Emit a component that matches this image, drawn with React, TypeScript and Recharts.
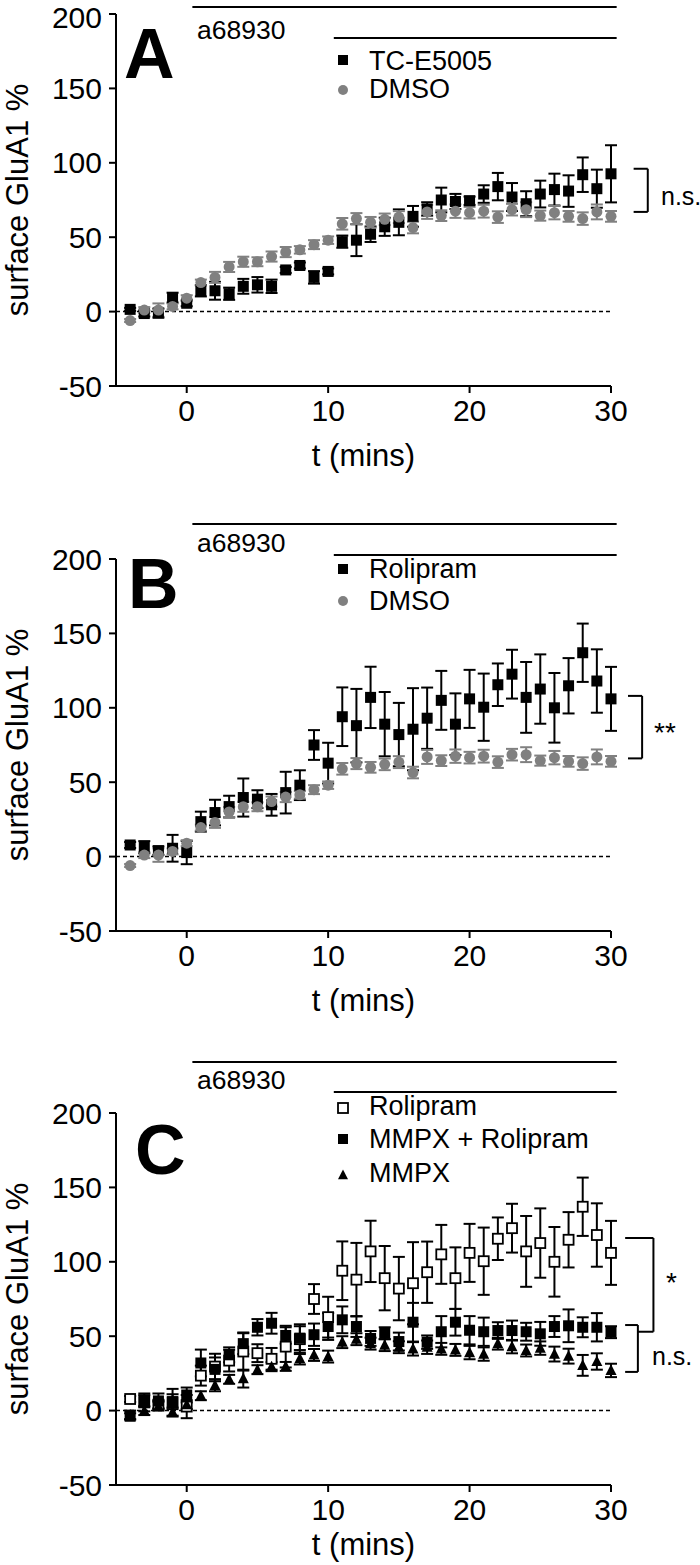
import { ScatterChart, Scatter, XAxis, YAxis, ErrorBar, ReferenceLine } from "recharts";

const FONT = '"Liberation Sans", Arial, Helvetica, sans-serif';
const GREY = "#808080";

// time points (min) relative to a68930 application
const minutes = [-4, -3, -2, -1, 0, 1, 2, 3, 4, 5, 6, 7, 8, 9, 10, 11, 12, 13, 14, 15, 16, 17, 18, 19, 20, 21, 22, 23, 24, 25, 26, 27, 28, 29, 30];

const xTicks = [0, 10, 20, 30];
const yTicks = [-50, 0, 50, 100, 150, 200];

// surface GluA1 % (mean) and SEM
const tcE5005 = [1.5, -1.3, -1, 9.4, 5.6, 14, 14, 12, 17, 18, 17, 28, 31, 23, 27, 47, 48, 52, 57, 60, 64, 69, 75, 74, 74.5, 79, 84, 77, 72.5, 79, 82, 81, 92, 82.6, 92.6];
const tcE5005Err = [1, 2, 3, 3.3, 2, 3.8, 6, 4.1, 5, 5.2, 4.5, 2, 2, 4.2, 2, 4.1, 10.7, 5.2, 6.1, 8.7, 7, 4.5, 8.3, 5.1, 2.8, 5.9, 9.2, 9.4, 8.4, 9, 10.7, 10.6, 11.6, 12.8, 19.2];

const dmso = [-6, 1, 1, 3.5, 9, 19.5, 23, 30, 33.5, 33.5, 37, 40, 41.5, 45, 48, 59, 62.5, 60, 62, 63.5, 56.5, 67, 64.5, 67.5, 66.5, 67.5, 63.5, 68.5, 68.5, 64.5, 66.5, 64, 62.5, 67, 64];
const dmsoErr = [1, 2, 4.5, 2, 2, 2, 3.7, 3.4, 3.4, 3, 3.4, 3.4, 2.5, 3, 2.5, 3.9, 3.7, 3.6, 3.9, 4, 3.9, 4.7, 3.6, 4.5, 3.9, 4.3, 3.9, 3.9, 5, 3.4, 4.5, 3.6, 4.2, 5, 3.6];

const rolipram = [7.8, 6.3, 4, 5.6, 2.7, 23.5, 29.6, 33.6, 39.7, 38.6, 34.8, 43, 48, 75, 62.8, 94, 88, 107, 89, 82, 85.6, 93, 105, 89, 106, 100.4, 115.5, 122.6, 107, 112.6, 100, 114.8, 137, 118, 106];
const rolipramErr = [2, 4.1, 2.8, 9, 7.8, 6.7, 8.6, 7.3, 12.8, 6, 7.3, 14, 10, 10, 13.7, 19.7, 24.7, 20.6, 21.6, 21.3, 27.6, 20.6, 19.8, 20.7, 19.5, 22.6, 14.3, 16.4, 23.8, 23.3, 23.4, 18.6, 19.6, 21.3, 21.5];

const mmpxRolipram = [-3.8, 5.5, 6.5, 6, 10.5, 32, 27.7, 37.5, 45, 56, 58.7, 50.5, 48.7, 51, 56.5, 61, 56.5, 48.5, 52, 46.4, 59.4, 46, 53, 59.4, 54, 53, 53.8, 53.8, 53, 51.6, 56.5, 57, 56, 56, 52.7];
const mmpxRolipramErr = [2, 6, 5, 5, 5, 9, 8, 5, 7, 5.5, 7, 5.5, 8, 7.5, 9, 9, 7, 5, 4, 6, 13, 4.5, 10.5, 9, 9.5, 9.5, 5.6, 6.7, 6, 8, 7, 11, 6.7, 9.5, 4];

const mmpx = [-3, 0, 3, -1, 4, 10, 17, 21, 21.5, 27.5, 29.5, 29.7, 35, 37.4, 36.3, 46, 48, 45, 44, 42.6, 41.5, 42.6, 41.5, 40.8, 39, 38, 45, 43, 40.4, 42, 38, 36.6, 30.4, 33, 27];
const mmpxErr = [3, 3, 3, 3, 3, 3, 4, 3, 6, 3, 3, 3, 4, 4, 4, 4, 4, 4, 4, 4, 4.5, 4.5, 4, 4, 4.5, 4.5, 4, 4.5, 4, 4.5, 5, 5, 7, 5.5, 4.5];

type Pt = { t: number; v: number; e: number };
const toPoints = (vals: number[], errs: number[]): Pt[] =>
  minutes.map((t, i) => ({ t, v: vals[i], e: errs[i] }));

// layout
const PLOT_H = 372;
const Y_AXIS_W = 116;
const RIGHT = 89;
const BOTTOM = 12;

// markers
const SolidSquare = ({ cx, cy, s = 11 }: any) => (
  <rect x={cx - s / 2} y={cy - s / 2} width={s} height={s} fill="#000" />
);
const OpenSquare = ({ cx, cy, s = 10 }: any) => (
  <rect x={cx - s / 2} y={cy - s / 2} width={s} height={s} fill="#fff" stroke="#000" strokeWidth={1.8} />
);
const GreyDot = ({ cx, cy, s = 11 }: any) => <circle cx={cx} cy={cy} r={s / 2} fill={GREY} />;
const Triangle = ({ cx, cy, s = 11 }: any) => (
  <polygon
    points={`${cx},${cy - s * 0.55} ${cx + s / 2},${cy + s * 0.42} ${cx - s / 2},${cy + s * 0.42}`}
    fill="#000"
  />
);

interface SeriesDef {
  name: string;
  data: Pt[];
  Shape: (p: any) => JSX.Element;
  color: string;
}

type Seg = [number, number, number, number];
interface Note {
  x: number;
  y: number;
  text: string;
  size: number;
  bold?: boolean;
}

interface PanelProps {
  top: number;
  marginTop: number;
  xAxisH: number;
  series: SeriesDef[];
  lines: Seg[];
  notes: Note[];
  legendY: number[];
  legendTextY: number[];
}

function Panel({ top, marginTop, xAxisH, series, lines, notes, legendY, legendTextY }: PanelProps) {
  const height = marginTop + PLOT_H + xAxisH + BOTTOM;
  return (
    <div style={{ position: "absolute", left: 0, top, width: 700, height }}>
      <ScatterChart width={700} height={height} margin={{ top: marginTop, right: RIGHT, bottom: BOTTOM, left: 0 }}>
        <XAxis
          type="number"
          dataKey="t"
          domain={[-5, 30]}
          ticks={xTicks}
          height={xAxisH}
          tickSize={7}
          tickMargin={7}
          tick={{ fill: "#000", fontSize: 30 }}
          tickLine={{ stroke: "#000", strokeWidth: 2 }}
          axisLine={{ stroke: "#000", strokeWidth: 2 }}
          label={{ value: "t (mins)", position: "insideBottom", offset: 0, fontSize: 31, fill: "#000" }}
        />
        <YAxis
          type="number"
          dataKey="v"
          domain={[-50, 200]}
          ticks={yTicks}
          width={Y_AXIS_W}
          tickSize={7}
          tickMargin={7}
          tick={{ fill: "#000", fontSize: 30 }}
          tickLine={{ stroke: "#000", strokeWidth: 2 }}
          axisLine={{ stroke: "#000", strokeWidth: 2 }}
        />
        <ReferenceLine y={0} stroke="#000" strokeWidth={1.5} strokeDasharray="4 3" />
        {series.map((s) => (
          <Scatter key={s.name} name={s.name} data={s.data} shape={(p: any) => <s.Shape cx={p.cx} cy={p.cy} />} isAnimationActive={false}>
            <ErrorBar dataKey="e" direction="y" width={6} stroke={s.color} strokeWidth={2} isAnimationActive={false} />
          </Scatter>
        ))}
        {lines.map((l, i) => (
          <ReferenceLine
            key={i}
            segment={[{ x: l[0], y: l[1] }, { x: l[2], y: l[3] }]}
            ifOverflow="visible"
            stroke="#000"
            strokeWidth={2}
          />
        ))}
      </ScatterChart>
      <svg
        width={700}
        height={height}
        style={{ position: "absolute", left: 0, top: 0, pointerEvents: "none", fontFamily: FONT }}
      >
        <text
          x={28}
          y={marginTop + PLOT_H / 2}
          transform={`rotate(-90, 28, ${marginTop + PLOT_H / 2})`}
          textAnchor="middle"
          fontSize={31}
          fill="#000"
        >
          surface GluA1 %
        </text>
        {notes.map((n, i) => (
          <text key={i} x={n.x} y={n.y} fontSize={n.size} fontWeight={n.bold ? 700 : 400} fill="#000">
            {n.text}
          </text>
        ))}
        {series.map((s, i) => (
          <g key={s.name}>
            <s.Shape cx={343} cy={legendY[i]} s={10} />
            <text x={369} y={legendTextY[i]} fontSize={27} fill="#000">
              {s.name}
            </text>
          </g>
        ))}
      </svg>
    </div>
  );
}

const dmsoPts = toPoints(dmso, dmsoErr);
const rolipramPts = toPoints(rolipram, rolipramErr);

export default function App() {
  return (
    <div style={{ position: "absolute", left: 0, top: 0, width: 700, height: 1565, overflow: "hidden", fontFamily: FONT, background: "#fff" }}>
      <Panel
        top={0}
        marginTop={14}
        xAxisH={80}
        series={[
          { name: "TC-E5005", data: toPoints(tcE5005, tcE5005Err), Shape: SolidSquare, color: "#000" },
          { name: "DMSO", data: dmsoPts, Shape: GreyDot, color: GREY },
        ]}
        lines={[
          [0.4, 204.7, 30.4, 204.7],
          [10.4, 183.9, 30.4, 183.9],
          [31.6, 96, 32.6, 96],
          [32.6, 96, 32.6, 67],
          [31.6, 67, 32.6, 67],
        ]}
        notes={[
          { x: 124, y: 78, text: "A", size: 70, bold: true },
          { x: 197, y: 39, text: "a68930", size: 26.5 },
          { x: 661, y: 205, text: "n.s.", size: 25 },
        ]}
        legendY={[60, 90]}
        legendTextY={[70, 98]}
      />
      <Panel
        top={499}
        marginTop={60}
        xAxisH={80}
        series={[
          { name: "Rolipram", data: rolipramPts, Shape: SolidSquare, color: "#000" },
          { name: "DMSO", data: dmsoPts, Shape: GreyDot, color: GREY },
        ]}
        lines={[
          [0.4, 223.5, 30.4, 223.5],
          [10.4, 202.7, 30.4, 202.7],
          [31.2, 108, 32.2, 108],
          [32.2, 108, 32.2, 66],
          [31.2, 66, 32.2, 66],
        ]}
        notes={[
          { x: 128, y: 109, text: "B", size: 70, bold: true },
          { x: 197, y: 53, text: "a68930", size: 26.5 },
          { x: 654, y: 243, text: "**", size: 28 },
        ]}
        legendY={[70, 102]}
        legendTextY={[79, 111]}
      />
      <Panel
        top={1053}
        marginTop={60}
        xAxisH={70}
        series={[
          { name: "Rolipram", data: rolipramPts, Shape: OpenSquare, color: "#000" },
          { name: "MMPX + Rolipram", data: toPoints(mmpxRolipram, mmpxRolipramErr), Shape: SolidSquare, color: "#000" },
          { name: "MMPX", data: toPoints(mmpx, mmpxErr), Shape: Triangle, color: "#000" },
        ]}
        lines={[
          [0.4, 234.3, 30.4, 234.3],
          [10.4, 214.1, 30.4, 214.1],
          [31, 116, 33, 116],
          [33, 116, 33, 53],
          [31.9, 53, 33, 53],
          [31, 57.5, 31.9, 57.5],
          [31.9, 57.5, 31.9, 26],
          [31, 26, 31.9, 26],
        ]}
        notes={[
          { x: 135, y: 121, text: "C", size: 70, bold: true },
          { x: 197, y: 36, text: "a68930", size: 26.5 },
          { x: 666, y: 239, text: "*", size: 28 },
          { x: 652, y: 312, text: "n.s.", size: 25 },
        ]}
        legendY={[55, 86, 122]}
        legendTextY={[62, 95, 129]}
      />
    </div>
  );
}
